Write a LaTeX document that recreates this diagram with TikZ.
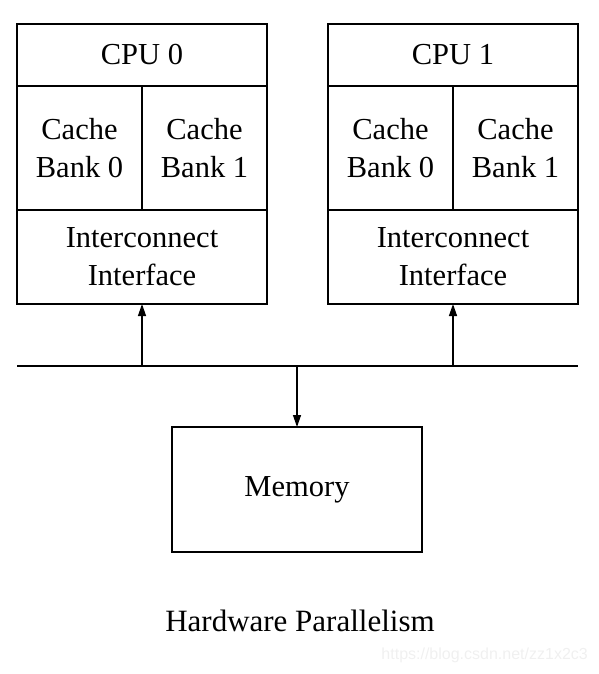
\documentclass[tikz,border=0pt]{standalone}
\usepackage{fontspec}
\setmainfont{Liberation Serif}
\newfontfamily\wmfont{Liberation Sans}
\usetikzlibrary{arrows.meta}
\begin{document}
\begin{tikzpicture}[x=1pt,y=-1pt,
  cell/.style={draw,line width=1.5pt,rectangle,inner sep=0pt,outer sep=0pt,align=center,
    font=\fontsize{30.5}{38}\selectfont},
  link/.style={line width=1.3pt,-{Triangle[length=12pt,width=8pt]}},
  bus/.style={line width=1.3pt}]
\useasboundingbox (0,0) rectangle (598,674);
% CPU 0
\node[cell,minimum width=250pt,minimum height=62pt] (cpu0) at (142,55) {CPU 0};
\node[cell,minimum width=125pt,minimum height=124pt] (c00) at (79.5,148) {Cache\\Bank 0};
\node[cell,minimum width=125pt,minimum height=124pt] (c01) at (204.5,148) {Cache\\Bank 1};
\node[cell,minimum width=250pt,minimum height=94pt] (if0) at (142,257) {Interconnect\\Interface};
% CPU 1
\node[cell,minimum width=250pt,minimum height=62pt] (cpu1) at (453,55) {CPU 1};
\node[cell,minimum width=125pt,minimum height=124pt] (c10) at (390.5,148) {Cache\\Bank 0};
\node[cell,minimum width=125pt,minimum height=124pt] (c11) at (515.5,148) {Cache\\Bank 1};
\node[cell,minimum width=250pt,minimum height=94pt] (if1) at (453,257) {Interconnect\\Interface};
% Memory
\node[cell,minimum width=250pt,minimum height=125pt] (mem) at (297,489.5) {Memory};
% bus
\coordinate (busL) at (17,366);
\coordinate (busR) at (578,366);
\coordinate (tap0) at (142,366);
\coordinate (tap1) at (453,366);
\coordinate (tapm) at (297,366);
\draw[bus] (busL) -- (busR);
\draw[link] (tap0) -- (if0.south);
\draw[link] (tap1) -- (if1.south);
\draw[link] (tapm) -- (mem.north);
% caption
\node[font=\fontsize{31}{36}\selectfont,inner sep=0pt] (cap) at (300,621) {Hardware Parallelism};
\node[font=\wmfont\fontsize{16}{18}\selectfont,text=black!6,inner sep=0pt,anchor=east] (wm) at (588,655) {https://blog.csdn.net/zz1x2c3};
\end{tikzpicture}
\end{document}
